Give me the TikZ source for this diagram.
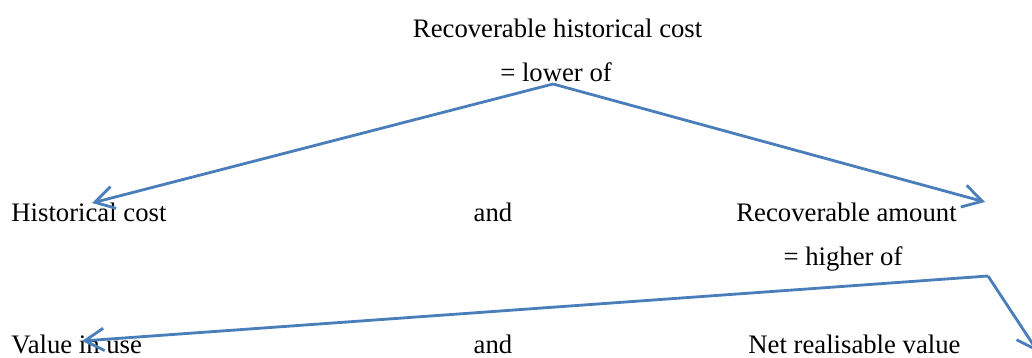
\documentclass[tikz,border=0pt]{standalone}
\usepackage{fontspec}
\setmainfont{Liberation Serif}
\usepackage{xcolor}
\usetikzlibrary{arrows.meta}
\definecolor{wordblue}{RGB}{74,126,187}

\begin{document}
\begin{tikzpicture}[line width=2pt,draw=wordblue]
    \tikzstyle{label}=[inner sep=0pt,font=\fontsize{19}{23}\selectfont]
    \tikzstyle{connector}=[-{Straight Barb[length=4.8mm,width=5.6mm]},line join=miter]

    \useasboundingbox (0,0) rectangle (25.8,8.95);

    % Draw the upper rule
    \node[label,anchor=base] (rhc) at (13.94,8.0) {Recoverable historical cost};
    \node[label,anchor=base] (lower) at (13.9,6.92) {= lower of};
    \node[label,anchor=base west] (hc) at (0.25,3.4) {Historical cost};
    \node[label,anchor=base] (and-1) at (12.325,3.4) {and};
    \node[label,anchor=base west] (ra) at (18.375,3.4) {Recoverable amount};

    % Draw the lower rule
    \node[label,anchor=base] (higher) at (21.075,2.3) {= higher of};
    \node[label,anchor=base west] (viu) at (0.25,0.1) {Value in use};
    \node[label,anchor=base] (and-2) at (12.325,0.1) {and};
    \node[label,anchor=base west] (nrv) at (18.675,0.1) {Net realisable value};

    % Corners and ends of the connectors
    \coordinate (top-1) at (13.825,6.85);
    \coordinate (L-1) at (2.3,3.875);
    \coordinate (R-1) at (24.625,3.9);
    \coordinate (top-2) at (24.7,2.05);
    \coordinate (L-2) at (2.05,0.425);
    \coordinate (R-2) at (25.95,0.15);

    \foreach \y in {1,2}
        \draw[connector] (top-\y) -- (L-\y);
    \foreach \y in {1,2}
        \draw[connector] (top-\y) -- (R-\y);

\end{tikzpicture}
\end{document}
